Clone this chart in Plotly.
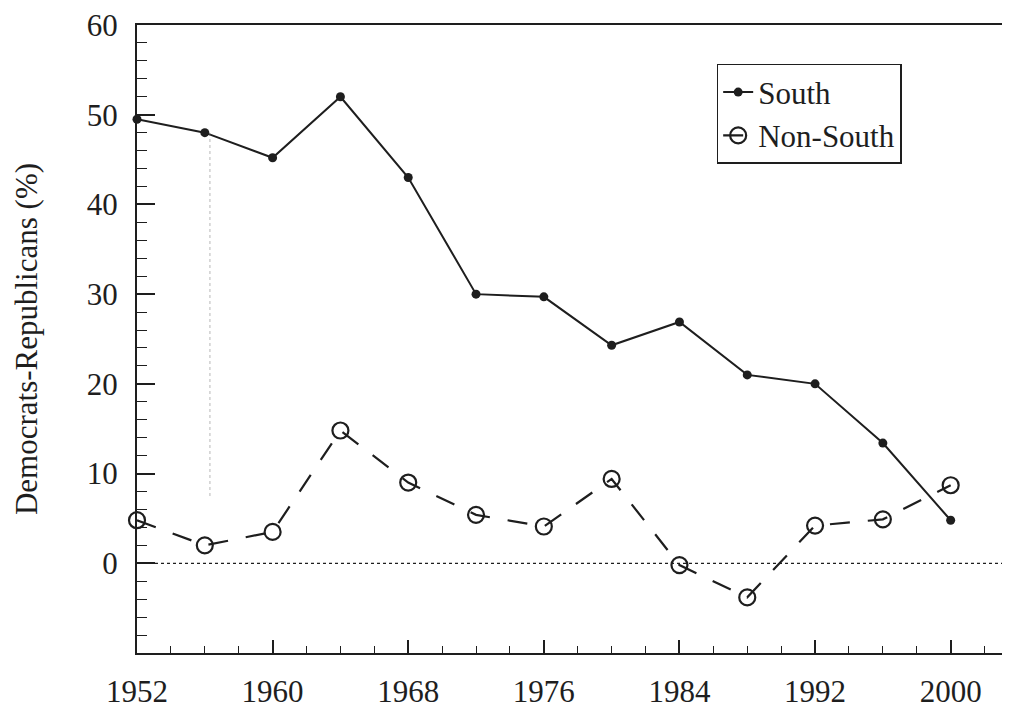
import plotly.graph_objects as go

years = [1952, 1956, 1960, 1964, 1968, 1972, 1976, 1980, 1984, 1988, 1992, 1996, 2000]
south = [49.5, 48.0, 45.2, 52.0, 43.0, 30.0, 29.7, 24.3, 26.9, 21.0, 20.0, 13.4, 4.8]
non_south = [4.8, 2.0, 3.5, 14.8, 9.0, 5.4, 4.1, 9.4, -0.2, -3.8, 4.2, 4.9, 8.7]
x_ticks = [1952, 1960, 1968, 1976, 1984, 1992, 2000]
y_ticks = [0, 10, 20, 30, 40, 50, 60]

FONT = "Liberation Serif"
INK = "#1e1e1e"
FS = 31

fig = go.Figure()
fig.add_trace(go.Scatter(
    x=years, y=non_south, name="Non-South", mode="lines+markers",
    line=dict(color=INK, width=2.2, dash="20px,18px"),
    marker=dict(symbol="circle-open", size=16, color=INK, line=dict(width=2.2, color=INK)),
    cliponaxis=False,
))
fig.add_trace(go.Scatter(
    x=years, y=south, name="South", mode="lines+markers",
    line=dict(color=INK, width=2),
    marker=dict(symbol="circle", size=9, color=INK),
    cliponaxis=False,
))

fig.add_hline(y=0, line=dict(color=INK, width=1.3, dash="dot"))
fig.add_shape(type="line", x0=1956.3, x1=1956.3, y0=7.5, y1=48, xref="x", yref="y",
              line=dict(color="rgba(120,120,120,0.35)", width=1.5, dash="dot"))

fig.update_layout(
    width=1002, height=702,
    margin=dict(l=129, r=0, t=11, b=57),
    paper_bgcolor="white", plot_bgcolor="white",
    font=dict(family=FONT, size=FS, color=INK),
    showlegend=True,
    legend=dict(
        x=0.664, y=0.938, xanchor="left", yanchor="top",
        bordercolor=INK, borderwidth=1.5, bgcolor="white",
        font=dict(family=FONT, size=FS, color=INK),
        traceorder="reversed", itemwidth=30,
        tracegroupgap=0,
    ),
    xaxis=dict(
        range=[1952, 2003.5], tickmode="array", tickvals=x_ticks,
        ticktext=[str(v) for v in x_ticks],
        ticks="inside", ticklen=13, tickwidth=1.5, tickcolor=INK,
        minor=dict(dtick=2, tick0=1952, ticks="inside", ticklen=7, tickwidth=1.3, tickcolor=INK, showgrid=False),
        showline=True, linecolor=INK, linewidth=2, mirror=True,
        showgrid=False, zeroline=False, ticklabelstandoff=10,
        ticklabeloverflow="allow",
        tickfont=dict(family=FONT, size=FS, color=INK),
    ),
    yaxis=dict(
        range=[-10, 60], tickmode="array", tickvals=y_ticks,
        ticktext=[str(v) for v in y_ticks],
        ticks="inside", ticklen=18, tickwidth=1.5, tickcolor=INK,
        minor=dict(dtick=2, tick0=0, ticks="inside", ticklen=10, tickwidth=1.3, tickcolor=INK, showgrid=False),
        showline=True, linecolor=INK, linewidth=2,
        showgrid=False, zeroline=False, ticklabelstandoff=11,
        ticklabeloverflow="allow",
        title=dict(text="Democrats-Republicans (%)", font=dict(family=FONT, size=FS, color=INK), standoff=40),
        tickfont=dict(family=FONT, size=FS, color=INK),
    ),
)

fig.write_html("out.html")
